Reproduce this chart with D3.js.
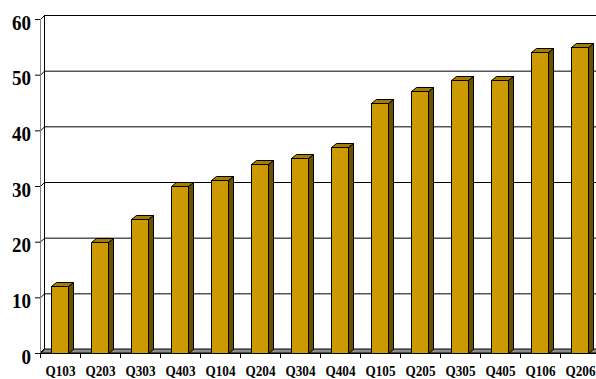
<!DOCTYPE html>
<html>
<head>
<meta charset="utf-8">
<script src="https://cdn.jsdelivr.net/npm/d3@7"></script>
<style>
html,body{margin:0;padding:0;background:#fff;}
svg{display:block;}
</style>
</head>
<body>
<script>
const categories = ["Q103","Q203","Q303","Q403","Q104","Q204","Q304","Q404","Q105","Q205","Q305","Q405","Q106","Q206"];
const values = [12,20,24,30,31,34,35,37,45,47,49,49,54,55];
const yTicks = [0,10,20,30,40,50,60];

const W = 596, H = 379;
const svg = d3.select("body").append("svg").attr("width", W).attr("height", H);

const x = d3.scaleBand().domain(categories).range([40, 600]).padding(0);
const y = d3.scaleLinear().domain([0, 60]).range([353, 19]);

const wdx = 4, wdy = -4;   // wall depth
const bdx = 5, bdy = -4;   // bar depth

// back wall gridlines
const g = svg.append("g");
// floor
const x0 = x.range()[0], x1 = x.range()[1];
g.append("path")
  .attr("d", `M${x0},${y(0)} L${x0+wdx},${y(0)+wdy} L${x1+wdx},${y(0)+wdy} L${x1},${y(0)} Z`)
  .attr("fill", "#8c8c8c").attr("stroke", "#000").attr("stroke-width", 1);

// gridlines on back wall and left wall
yTicks.forEach(t => {
  const yy = y(t) + wdy + 0.5;
  if (t > 0) {
    g.append("line").attr("x1", x0 + wdx).attr("x2", x1 + wdx).attr("y1", yy).attr("y2", yy)
      .attr("stroke", "#000").attr("stroke-width", 1);
  }
  g.append("line").attr("x1", x0 + 0.5).attr("y1", y(t) + 0.5).attr("x2", x0 + wdx + 0.5).attr("y2", yy)
    .attr("stroke", "#000").attr("stroke-width", 1);
});

// left wall lines
g.append("line").attr("x1", x0 + wdx + 0.5).attr("x2", x0 + wdx + 0.5)
  .attr("y1", y(60) + wdy).attr("y2", y(0) + wdy).attr("stroke", "#000");
g.append("line").attr("x1", x0 + 0.5).attr("x2", x0 + 0.5)
  .attr("y1", y(60)).attr("y2", y(0)).attr("stroke", "#808080");

// front axis line
g.append("line").attr("x1", x0).attr("x2", x1).attr("y1", y(0) + 0.5).attr("y2", y(0) + 0.5)
  .attr("stroke", "#000");

// y ticks and labels
yTicks.forEach(t => {
  g.append("line").attr("x1", x0 - 5).attr("x2", x0).attr("y1", y(t) + 0.5).attr("y2", y(t) + 0.5)
    .attr("stroke", "#000");
  const s = String(t);
  g.append("text").attr("x", 31).attr("y", y(t) + 10.5)
    .attr("text-anchor", "end")
    .attr("font-family", "'Liberation Serif','Times New Roman',serif")
    .attr("font-weight", "bold").attr("font-size", 21)
    .attr("textLength", 9.5 * s.length).attr("lengthAdjust", "spacingAndGlyphs")
    .text(s);
});

// x ticks
categories.forEach((c, i) => {
  const xx = x(c) + 0.5;
  g.append("line").attr("x1", xx).attr("x2", xx).attr("y1", y(0)).attr("y2", y(0) + 5).attr("stroke", "#000");
});
g.append("line").attr("x1", x1 - 0.5).attr("x2", x1 - 0.5).attr("y1", y(0)).attr("y2", y(0) + 5).attr("stroke", "#000");

// bars
const bw = x.bandwidth();
const off = bw * 0.275, fw = bw * 0.425;
const bars = svg.append("g").selectAll("g").data(categories).join("g");
bars.each(function(c, i) {
  const sel = d3.select(this);
  const L = Math.round(x(c) + off) + 0.5, R = L + Math.round(fw);
  const T = Math.round(y(values[i])) + 0.5, B = y(0) + 0.5;
  // side
  sel.append("path").attr("d", `M${R},${T} L${R+bdx},${T+bdy} L${R+bdx},${B+bdy} L${R},${B} Z`)
    .attr("fill", "#6b5000").attr("stroke", "#000").attr("stroke-width", 1).attr("stroke-linejoin", "round");
  // top
  sel.append("path").attr("d", `M${L},${T} L${L+bdx},${T+bdy} L${R+bdx},${T+bdy} L${R},${T} Z`)
    .attr("fill", "#a67c00").attr("stroke", "#000").attr("stroke-width", 1).attr("stroke-linejoin", "round");
  // front
  sel.append("rect").attr("x", L).attr("y", T).attr("width", R - L).attr("height", B - T)
    .attr("fill", "#cc9900").attr("stroke", "#000").attr("stroke-width", 1);
});

// x labels
categories.forEach(c => {
  svg.append("text").attr("x", x(c) + bw / 2 + 0.5).attr("y", 376)
    .attr("text-anchor", "middle")
    .attr("font-family", "'Liberation Serif','Times New Roman',serif")
    .attr("font-weight", "bold").attr("font-size", 14)
    .attr("textLength", 30).attr("lengthAdjust", "spacingAndGlyphs")
    .text(c);
});
</script>
</body>
</html>
